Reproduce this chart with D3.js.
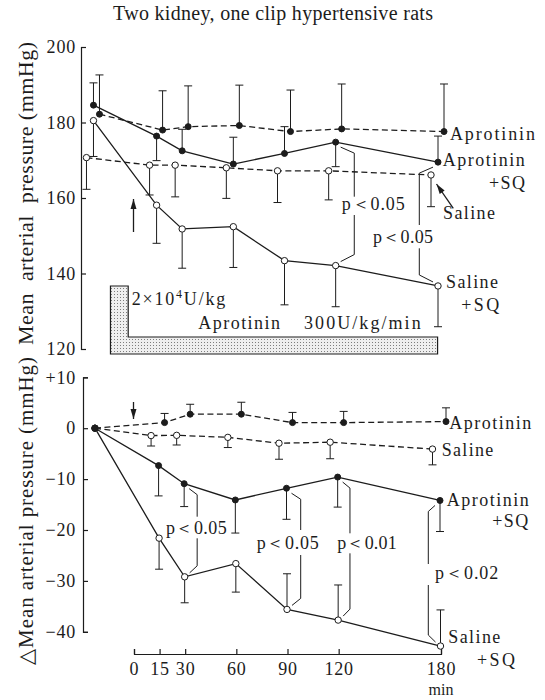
<!DOCTYPE html>
<html>
<head>
<meta charset="utf-8">
<script src="https://cdn.jsdelivr.net/npm/d3@7"></script>
<style>
body{margin:0;background:#fff}
svg text{font-family:"Liberation Serif","DejaVu Serif","Noto Serif",serif;fill:#1c1c1c;white-space:pre}
</style>
</head>
<body>
<svg id="chart" width="545" height="700"></svg>
<script>
// minutes after the bolus; the first reading is the control one, drawn left of 0
var times = [-22, 15, 30, 60, 90, 120, 180];
var tickMinutes = [0, 15, 30, 60, 90, 120, 180];
var mapTicks = [120, 140, 160, 180, 200];
var deltaTicks = [10, 0, -10, -20, -30, -40];

// upper panel, mean arterial pressure (mmHg); sign of sem = side the bar is drawn on
var mapAprotinin     = [182.2, 178.0, 178.9, 179.2, 177.6, 178.3, 177.6];
var mapAprotininSem  = [10.4, 10.4, 10.8, 10.7, 11.0, 11.9, 12.6];
var mapAprotininSQ    = [184.6, 176.4, 172.5, 169.0, 171.8, 174.8, 169.5];
var mapAprotininSQSem = [5.9, -6.5, 5.7, 7.1, 7.1, -6.5, 6.9];
var mapSaline     = [170.7, 168.7, 168.7, 168.0, 167.2, 167.2, 166.1];
var mapSalineSem  = [-8.4, -7.9, -8.4, -8.1, -8.4, -7.7, -8.4];
var mapSalineSQ    = [180.5, 158.1, 151.8, 152.4, 143.4, 142.1, 136.7];
var mapSalineSQSem = [-9.5, -10.1, -10.4, -10.8, -11.7, -10.9, -10.8];

// lower panel, change in mean arterial pressure (mmHg)
var dAprotinin     = [0, 1.1, 2.75, 2.75, 1.1, 1.1, 1.3];
var dAprotininSem  = [0, 1.8, 1.95, 2.35, 2.0, 2.2, 2.7];
var dSaline     = [0, -1.45, -1.4, -1.8, -2.95, -2.75, -4.1];
var dSalineSem  = [0, -2.05, -1.9, -2.0, -3.15, -3.25, -3.1];
var dAprotininSQ    = [0, -7.35, -10.9, -14.1, -11.8, -9.6, -14.2];
var dAprotininSQSem = [0, -5.95, -4.5, -6.5, -6.1, -5.9, -6.1];
var dSalineSQ    = [0, -21.6, -29.2, -26.6, -35.6, -37.7, -42.8];
var dSalineSQSem = [0, -6.1, -5.1, -5.6, 7.0, 6.9, 7.1];

var ink = '#1c1c1c';
var serif = '"Liberation Serif","DejaVu Serif","Noto Serif",serif';
var svg = d3.select('#chart');

var defs = svg.append('defs');
var pat = defs.append('pattern').attr('id', 'dots').attr('width', 3).attr('height', 3)
    .attr('patternUnits', 'userSpaceOnUse');
pat.append('rect').attr('width', 3).attr('height', 3).attr('fill', '#efefef');
pat.append('rect').attr('width', 1).attr('height', 1).attr('fill', '#7d7d7d');

var x = d3.scaleLinear().domain([0, 180]).range([134, 441]);
var yTop = d3.scaleLinear().domain([120, 200]).range([349, 47]);
var yBot = d3.scaleLinear().domain([-40, 10]).range([631.8, 377.3]);

// dodge = small pixel shift so that overlapping groups stay readable
var topSeries = [
    {values: mapSalineSQ, sem: mapSalineSQSem, open: true, dashed: false, dodge: -3},
    {values: mapSaline, sem: mapSalineSem, open: true, dashed: true, dodge: -10},
    {values: mapAprotininSQ, sem: mapAprotininSQSem, open: false, dashed: false, dodge: -3},
    {values: mapAprotinin, sem: mapAprotininSem, open: false, dashed: true, dodge: 3}
];
var botSeries = [
    {values: dSalineSQ, sem: dSalineSQSem, open: true, dashed: false, dodge: -0.5},
    {values: dSaline, sem: dSalineSem, open: true, dashed: true, dodge: -8.5},
    {values: dAprotininSQ, sem: dAprotininSQSem, open: false, dashed: false, dodge: -1},
    {values: dAprotinin, sem: dAprotininSem, open: false, dashed: true, dodge: 5}
];

function points(s, y, sharedStart) {
    return s.values.map(function (v, i) {
        var dx = (sharedStart && i === 0) ? -1.5 : s.dodge;
        return {x: x(times[i]) + dx, y: y(v), yEnd: y(v + s.sem[i]), sem: s.sem[i]};
    });
}

function drawPanel(y, series, sharedStart) {
    var g = svg.append('g');
    var line = d3.line().x(function (d) { return d.x; }).y(function (d) { return d.y; });
    series.forEach(function (s) {
        g.append('path').datum(points(s, y, sharedStart))
            .attr('d', line).attr('fill', 'none').attr('stroke', ink)
            .attr('stroke-width', 1.3)
            .attr('stroke-dasharray', s.dashed ? '6,3.5' : null);
    });
    series.forEach(function (s) {
        var pts = points(s, y, sharedStart).filter(function (d) { return d.sem !== 0; });
        g.selectAll(null).data(pts).enter().append('path')
            .attr('d', function (d) {
                return 'M' + d.x + ',' + d.y + 'V' + d.yEnd + 'M' + (d.x - 4) + ',' + d.yEnd + 'H' + (d.x + 4);
            })
            .attr('stroke', ink).attr('stroke-width', 1).attr('fill', 'none');
    });
    series.forEach(function (s) {
        g.selectAll(null).data(points(s, y, sharedStart)).enter().append('circle')
            .attr('cx', function (d) { return d.x; })
            .attr('cy', function (d) { return d.y; })
            .attr('r', s.open ? 3.2 : 3)
            .attr('fill', s.open ? '#fff' : ink)
            .attr('stroke', ink).attr('stroke-width', 1);
    });
}

// dose bar: bolus then infusion
var dose = svg.append('g');
dose.append('path')
    .attr('d', 'M' + x(-13.8) + ',286H' + x(-3.4) + 'V337H' + x(178) + 'V354H' + x(-13.8) + 'Z')
    .attr('fill', 'url(#dots)').attr('stroke', ink).attr('stroke-width', 1.2);

function label(txt, cx, cy, len, size, anchor) {
    var t = svg.append('text').attr('x', cx).attr('y', cy + 6)
        .attr('font-size', size || 18).attr('text-anchor', anchor || 'start').text(txt);
    if (len) t.attr('textLength', len).attr('lengthAdjust', 'spacing');
    return t;
}

var bolus = svg.append('text').attr('x', 131.7).attr('y', 304.5).attr('font-size', 18)
    .attr('letter-spacing', 1.8);
bolus.append('tspan').text('2×10');
bolus.append('tspan').attr('font-size', 12).attr('dy', -7).text('4');
bolus.append('tspan').attr('dy', 7).text('U/kg');
label('Aprotinin', 198.3, 323.3, 81.7);
label('300U/kg/min', 304, 323.3, 116.7);

// axes
var axTop = svg.append('g').attr('transform', 'translate(81,0)')
    .call(d3.axisLeft(yTop).tickValues(mapTicks).tickSize(-5).tickPadding(5).tickFormat(d3.format('d')));
var axBot = svg.append('g').attr('transform', 'translate(83,0)')
    .call(d3.axisLeft(yBot).tickValues(deltaTicks).tickSize(-5).tickPadding(7)
        .tickFormat(function (d) { return d > 0 ? '+' + d : d < 0 ? '−' + Math.abs(d) : '0'; }));
var axX = svg.append('g').attr('transform', 'translate(0,654)')
    .call(d3.axisBottom(x).tickValues(tickMinutes).tickSize(-5).tickPadding(8));
[axTop, axBot, axX].forEach(function (a) {
    a.selectAll('path,line').attr('stroke', ink).attr('stroke-width', 1.2);
    a.selectAll('text').attr('font-size', 18).style('font-family', serif)
        .attr('fill', ink).attr('letter-spacing', 0.8);
});
label('min', x(180), 688.5, null, 16, 'middle');

drawPanel(yTop, topSeries, false);
drawPanel(yBot, botSeries, true);

// arrows marking the start of aprotinin
function arrow(x1, y1, x2, y2) {
    var a = Math.atan2(y2 - y1, x2 - x1), L = 10, w = 3;
    svg.append('line').attr('x1', x1).attr('y1', y1).attr('x2', x2).attr('y2', y2)
        .attr('stroke', ink).attr('stroke-width', 1.3);
    var bx = x2 - L * Math.cos(a), by = y2 - L * Math.sin(a);
    svg.append('path').attr('fill', ink)
        .attr('d', 'M' + x2 + ',' + y2 + 'L' + (bx - w * Math.sin(a)) + ',' + (by + w * Math.cos(a)) +
            'L' + (bx + w * Math.sin(a)) + ',' + (by - w * Math.cos(a)) + 'Z');
}
arrow(x(0) - 0.5, 232, x(0) - 0.5, 199);
arrow(x(0) - 0.5, 402, x(0) - 0.5, 419);
arrow(453.3, 208.3, 436.5, 184);

// significance brackets between the +SQ groups
function bracket(ti, s1, s2, y, side, w, g0, g1, sharedStart) {
    var p1 = points(s1, y, sharedStart)[ti], p2 = points(s2, y, sharedStart)[ti];
    var lx = x(times[ti]) + side * w;
    var d = 'M' + (p1.x + side * 5) + ',' + (p1.y + 5) + 'L' + lx + ',' + (p1.y + 11) + 'V' + g0 +
        'M' + lx + ',' + g1 + 'V' + (p2.y - 11) + 'L' + (p2.x + side * 5) + ',' + (p2.y - 4);
    svg.append('path').attr('d', d).attr('fill', 'none').attr('stroke', ink).attr('stroke-width', 1);
}
bracket(5, topSeries[2], topSeries[0], yTop, 1, 15.6, 196.7, 215);
bracket(6, topSeries[2], topSeries[0], yTop, -1, 21.7, 225, 248.3);
bracket(2, botSeries[2], botSeries[0], yBot, 1, 12, 516.7, 538.3);
bracket(4, botSeries[2], botSeries[0], yBot, 1, 13.2, 530, 555);
bracket(5, botSeries[2], botSeries[0], yBot, 1, 11.3, 533.3, 553.3);
bracket(6, botSeries[2], botSeries[0], yBot, -1, 12.7, 564, 585);

label('p＜0.05', 341.7, 204, 63);
label('p＜0.05', 373, 236.7, 60);
label('p＜0.05', 166, 528.3, 60.7);
label('p＜0.05', 256.7, 543.3, 62);
label('p＜0.01', 337.3, 543.3, 59.4);
label('p＜0.02', 435, 572.7, 63.3);

// series names
label('Aprotinin', 450, 134, 85);
label('Aprotinin', 442.7, 160, 82);
label('+SQ', 525, 183, 36, 18, 'end');
label('Saline', 443, 213, 52);
label('Saline', 446, 282, 52);
label('+SQ', 499.3, 305, 38, 18, 'end');

label('Aprotinin', 449.3, 423.3, 82);
label('Saline', 441.7, 450, 51.6);
label('Aprotinin', 446.7, 500, 82);
label('+SQ', 528.3, 521, 36, 18, 'end');
label('Saline', 448.3, 637, 52);
label('+SQ', 515, 660, 38, 18, 'end');

// titles
label('Two kidney, one clip hypertensive rats', 113, 14, 320, 20);
svg.append('text').attr('transform', 'translate(33,193.5) rotate(-90)')
    .attr('text-anchor', 'middle').attr('font-size', 22)
    .attr('textLength', 303).attr('lengthAdjust', 'spacing')
    .text('Mean  arterial  pressure (mmHg)');
svg.append('text').attr('transform', 'translate(33,511) rotate(-90)')
    .attr('text-anchor', 'middle').attr('font-size', 21)
    .attr('textLength', 308).attr('lengthAdjust', 'spacing')
    .text('△Mean arterial pressure (mmHg)');
</script>
</body>
</html>
